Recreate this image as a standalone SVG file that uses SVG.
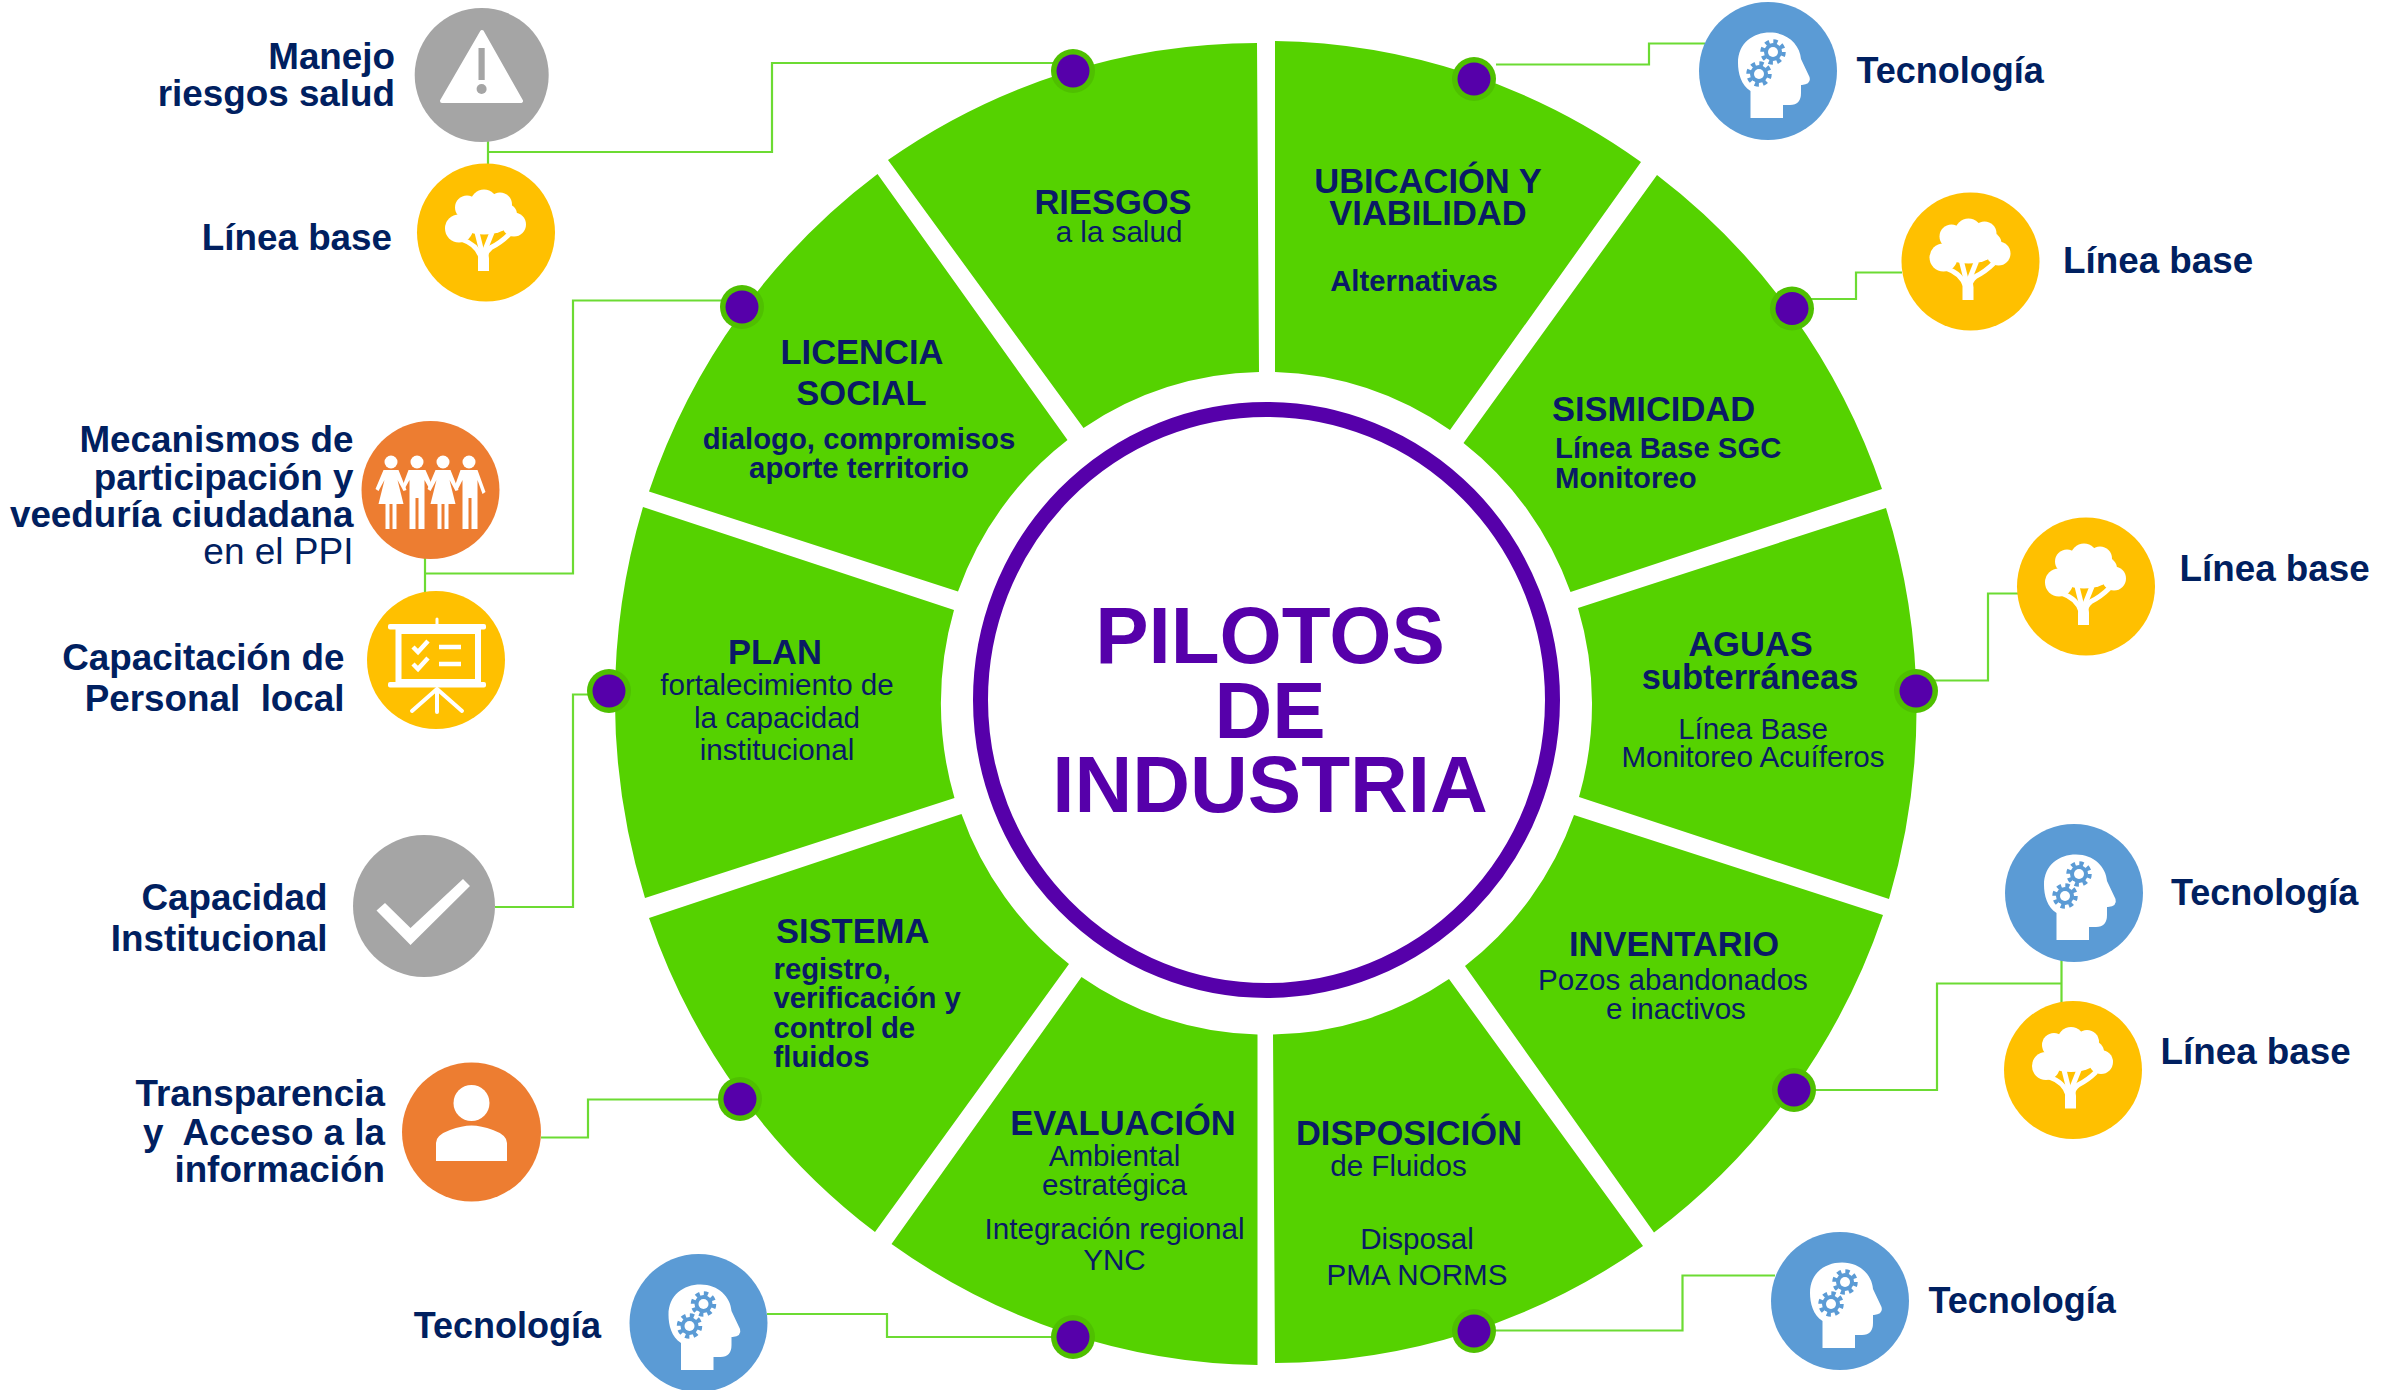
<svg xmlns="http://www.w3.org/2000/svg" width="2381" height="1390" viewBox="0 0 2381 1390">
<style>
text{font-family:"Liberation Sans",Arial,sans-serif}
.lb{font-size:36.800px;font-weight:700;fill:#002060}
.tc{font-size:36px;font-weight:700;fill:#002060}
.lr{font-size:37px;font-weight:400;fill:#002060}
.e{text-anchor:end}
.m{text-anchor:middle}
.h{font-size:34.500px;font-weight:700;fill:#0a1a66}
.b{font-size:29.300px;font-weight:700;fill:#0a1a66}
.r{font-size:29.600px;font-weight:400;fill:#0a1a66}
.c{font-size:80px;font-weight:700;fill:#5600AA;text-anchor:middle}
.w{fill:#55D200}
.cn{fill:none;stroke:#6CDB33;stroke-width:2.2}
.ro{fill:#4FC000}
.pu{fill:#5600AA}
.gy{fill:#A5A5A5}
.ye{fill:#FFC000}
.or{fill:#ED7D31}
.bl{fill:#5B9BD5}
.wh{fill:#fff}
</style>
<defs>
<g id="dot"><circle r="22" class="ro"/><circle r="16.5" class="pu"/></g>
<g id="gear"><circle r="9" class="bl"/><circle r="10.5" fill="none" stroke="#5B9BD5" stroke-width="4.5" stroke-dasharray="4.2 4.05"/><circle r="5" class="wh"/></g>
<g id="head">
<circle r="69" class="bl"/>
<path class="wh" d="M-17.5 47V20C-27 14-30 2-30-8C-30-28-15-38.5 2-38.5C20-38.5 32-26 33-12L41.5 6Q43.500 13 34 14L33 14V22Q33 34 22 34H15V47Z"/>
<use href="#gear" x="5" y="-19"/>
<use href="#gear" x="-9" y="3"/>
</g>
<g id="tree">
<circle r="69" class="ye"/>
<g fill="#fff">
<circle cx="-2" cy="-29.500" r="13.500"/>
<circle cx="-19" cy="-25" r="12"/>
<circle cx="14" cy="-28" r="12"/>
<circle cx="-27" cy="-4" r="14"/>
<circle cx="28" cy="-8" r="12"/>
<circle cx="20" cy="-18" r="11"/>
<ellipse cx="-2" cy="-12" rx="27" ry="14"/>
<path d="M-8 38.500V26L-7 18H2L3 26V38.500Z"/>
</g>
<g fill="none" stroke="#fff" stroke-width="5">
<path d="M-24 7Q-9 12-5 25"/>
<path d="M23 2Q15 10 5 15Q0 19-1 25"/>
<path d="M-9 0L-4 20"/>
<path d="M6 0L-2 20"/>
</g>
</g>
</defs>

<g id="connectors">
<polyline class="cn" points="1060,63 772,63 772,152 488,152"/>
<line class="cn" x1="488" y1="141" x2="488" y2="166"/>
<polyline class="cn" points="725,300.500 573,300.500 573,573.500 425,573.500"/>
<line class="cn" x1="425" y1="558" x2="425" y2="592"/>
<polyline class="cn" points="590,694.500 573,694.500 573,907 495,907"/>
<polyline class="cn" points="720,1099.500 588,1099.500 588,1137.500 541,1137.500"/>
<polyline class="cn" points="767,1314 887,1314 887,1337 1055,1337"/>
<polyline class="cn" points="1490,1330.500 1682.500,1330.500 1682.500,1275.500 1775,1275.500"/>
<polyline class="cn" points="1812,1090 1937,1090 1937,983.500 2061.500,983.500"/>
<line class="cn" x1="2061.500" y1="960" x2="2061.500" y2="1004"/>
<polyline class="cn" points="1932,680.500 1988,680.500 1988,593.500 2018,593.500"/>
<polyline class="cn" points="1810,299 1856,299 1856,272.500 1902,272.500"/>
<polyline class="cn" points="1496,64.500 1649,64.500 1649,43.500 1705,43.500"/>
</g>

<g id="hub">
<ellipse cx="1266.500" cy="700" rx="286" ry="290.500" fill="#fff" stroke="#5600AA" stroke-width="15"/>
<text class="c" x="1270" y="663">PILOTOS</text>
<text class="c" x="1270" y="737.500">DE</text>
<text class="c" x="1270" y="811.500">INDUSTRIA</text>
</g>

<g id="seg-riesgos">
<path class="w" d="M888 160A651 662 0 0 1 1257 43L1259 372A324.500 331 0 0 0 1083.500 428Z"/>
<use href="#dot" x="1073" y="71"/>
<text class="h m" x="1113" y="213.500">RIESGOS</text>
<text class="r m" x="1119" y="241.500">a la salud</text>
</g>
<g id="seg-ubicacion">
<path class="w" d="M1275 41A651 662 0 0 1 1641 162L1450 430A324.500 331 0 0 0 1275 372Z"/>
<use href="#dot" x="1474" y="79"/>
<text class="h m" x="1428" y="193">UBICACIÓN Y</text>
<text class="h m" x="1428" y="224.500">VIABILIDAD</text>
<text class="b m" x="1414" y="291">Alternativas</text>
</g>
<g id="seg-sismicidad">
<path class="w" d="M1657 175A651 662 0 0 1 1882 489L1570.500 592A324.500 331 0 0 0 1463.500 443Z"/>
<use href="#dot" x="1792" y="308.500"/>
<text class="h" x="1552" y="420.500">SISMICIDAD</text>
<text class="b" x="1555" y="457.500">Línea Base SGC</text>
<text class="b" x="1555" y="487.500">Monitoreo</text>
</g>
<g id="seg-aguas">
<path class="w" d="M1886 508A651 662 0 0 1 1889 899L1579 797A324.500 331 0 0 0 1578 608Z"/>
<use href="#dot" x="1916" y="691"/>
<text class="h m" x="1750.500" y="656">AGUAS</text>
<text class="h m" x="1750" y="689">subterráneas</text>
<text class="r m" x="1753" y="738.500">Línea Base</text>
<text class="r m" x="1753" y="767">Monitoreo Acuíferos</text>
</g>
<g id="seg-inventario">
<path class="w" d="M1883 915A651 662 0 0 1 1654 1232.500L1465 966A324.500 331 0 0 0 1574 815Z"/>
<use href="#dot" x="1794" y="1090"/>
<text class="h m" x="1674" y="955.500">INVENTARIO</text>
<text class="r m" x="1673" y="990">Pozos abandonados</text>
<text class="r m" x="1676" y="1019">e inactivos</text>
</g>
<g id="seg-disposicion">
<path class="w" d="M1643 1246A651 662 0 0 1 1275 1363L1273 1034.500A324.500 331 0 0 0 1449 979Z"/>
<use href="#dot" x="1474" y="1331"/>
<text class="h m" x="1409" y="1145">DISPOSICIÓN</text>
<text class="r m" x="1398.500" y="1176">de Fluidos</text>
<text class="r m" x="1417" y="1249">Disposal</text>
<text class="r m" x="1417" y="1284.500">PMA NORMS</text>
</g>
<g id="seg-evaluacion">
<path class="w" d="M1257.500 1365A651 662 0 0 1 891.500 1244L1081.500 977A324.500 331 0 0 0 1257.500 1034.500Z"/>
<use href="#dot" x="1073" y="1337"/>
<text class="h m" x="1123" y="1135">EVALUACIÓN</text>
<text class="r m" x="1114.500" y="1166">Ambiental</text>
<text class="r m" x="1114.500" y="1195">estratégica</text>
<text class="r m" x="1114.500" y="1238.500">Integración regional</text>
<text class="r m" x="1114.500" y="1270">YNC</text>
</g>
<g id="seg-sistema">
<path class="w" d="M875 1232A651 662 0 0 1 649 918L961.500 814A324.500 331 0 0 0 1069 964Z"/>
<use href="#dot" x="740" y="1099"/>
<text class="h" x="776" y="942.500">SISTEMA</text>
<text class="b" x="773.500" y="978.500">registro,</text>
<text class="b" x="773.500" y="1008">verificación y</text>
<text class="b" x="773.500" y="1038">control de</text>
<text class="b" x="773.500" y="1066.500">fluidos</text>
</g>
<g id="seg-plan">
<path class="w" d="M645 898A651 662 0 0 1 643 507L954 610A324.500 331 0 0 0 954.500 798Z"/>
<use href="#dot" x="609" y="691"/>
<text class="h m" x="775" y="664">PLAN</text>
<text class="r m" x="777" y="695">fortalecimiento de</text>
<text class="r m" x="777" y="728">la capacidad</text>
<text class="r m" x="777" y="759.500">institucional</text>
</g>
<g id="seg-licencia">
<path class="w" d="M649 491.500A651 662 0 0 1 877.500 174L1067.500 440A324.500 331 0 0 0 958 591.500Z"/>
<use href="#dot" x="742" y="307"/>
<text class="h m" x="862" y="364">LICENCIA</text>
<text class="h m" x="861.500" y="405">SOCIAL</text>
<text class="b m" x="859" y="448.500">dialogo, compromisos</text>
<text class="b m" x="859" y="477.500">aporte territorio</text>
</g>

<g id="n-manejo">
<circle cx="481.700" cy="75" r="67" class="gy"/>
<path class="wh" stroke="#fff" stroke-width="4" stroke-linejoin="round" d="M482 32L521 101H442Z"/>
<rect class="gy" x="478.500" y="48" width="6.200" height="32"/>
<circle class="gy" cx="481.600" cy="89" r="5"/>
<text class="lb e" x="395" y="69">Manejo</text>
<text class="lb e" x="395" y="106">riesgos salud</text>
</g>
<g id="n-lineabase-1">
<use href="#tree" x="486" y="232.500"/>
<text class="lb e" x="392" y="250">Línea base</text>
</g>
<g id="n-mecanismos">
<circle cx="430.500" cy="490" r="69" class="or"/>
<g fill="#fff" transform="translate(430.500 490)">
<circle cx="-39.500" cy="-28" r="6.500"/><circle cx="-13.500" cy="-28" r="6.500"/><circle cx="12.500" cy="-28" r="6.500"/><circle cx="38.500" cy="-28" r="6.500"/>
<path d="M-47-20H-32L-24 0L-27 1L-33-10L-27 14H-34V39H-38V14H-41V39H-45V14H-52L-46-10L-52 1L-55-1Z"/>
<path d="M-22-20H-5L2-4L-1-1L-6-10V39H-12V8H-15V39H-21V-10L-26-1L-28-4Z"/>
<path d="M5-20H20L28 0L25 1L19-10L25 14H18V39H14V14H11V39H7V14H0L6-10L0 1L-3-1Z"/>
<path d="M30-20H47L55 2L52 4L47-10V39H41V8H38V39H32V-10L27 0L24-3Z"/>
</g>
<text class="lb e" x="353.500" y="452">Mecanismos de</text>
<text class="lb e" x="353.500" y="489.500">participación y</text>
<text class="lb e" x="353.500" y="527">veeduría ciudadana</text>
<text class="lr e" x="353.500" y="564">en el PPI</text>
</g>
<g id="n-capacitacion">
<circle cx="436" cy="660" r="69" class="ye"/>
<rect class="wh" x="388" y="624" width="98" height="5.500" rx="2"/>
<rect class="wh" x="388" y="682" width="98" height="5.500" rx="2"/>
<rect x="398.500" y="631" width="79.500" height="51" fill="none" stroke="#fff" stroke-width="6"/>
<g fill="none" stroke="#fff" stroke-linecap="round">
<path stroke-width="3" d="M437 619V624"/>
<path stroke-width="4" d="M437 689V712M437 689L412 711M437 689L462 711"/>
<path stroke-width="4.500" stroke-linecap="butt" d="M439 647H461M439 664H461M413 647L418 652L428 641M413 664L418 669L428 658"/>
</g>
<text class="lb e" x="344.500" y="669.500">Capacitación de</text>
<text class="lb e" x="344.500" y="711" xml:space="preserve">Personal  local</text>
</g>
<g id="n-capacidad">
<circle cx="424" cy="906" r="71" class="gy"/>
<polygon class="wh" points="376.500,910.500 410.500,945 470,886 463,879 410.500,928 385,903"/>
<text class="lb e" x="327.500" y="909.500">Capacidad</text>
<text class="lb e" x="327.500" y="951">Institucional</text>
</g>
<g id="n-transparencia">
<circle cx="471.500" cy="1132" r="69.500" class="or"/>
<circle class="wh" cx="471.500" cy="1103" r="18"/>
<path class="wh" d="M436 1161V1143Q436 1135 450 1130Q462 1125.500 471.500 1125.500Q481 1125.500 493 1130Q507 1135 507 1143V1161Z"/>
<text class="lb e" x="385" y="1106">Transparencia</text>
<text class="lb e" x="385" y="1144.500" xml:space="preserve">y  Acceso a la</text>
<text class="lb e" x="385" y="1181.500">información</text>
</g>
<g id="n-tecnologia-sw">
<use href="#head" x="698.500" y="1323"/>
<text class="tc e" x="601" y="1338">Tecnología</text>
</g>
<g id="n-tecnologia-se">
<use href="#head" x="1840" y="1301"/>
<text class="tc" x="1928.500" y="1312.500">Tecnología</text>
</g>
<g id="n-lineabase-e3">
<use href="#tree" x="2073" y="1070"/>
<text class="lb" x="2160.500" y="1064">Línea base</text>
</g>
<g id="n-tecnologia-e">
<use href="#head" x="2074" y="893"/>
<text class="tc" x="2171" y="904.500">Tecnología</text>
</g>
<g id="n-lineabase-e2">
<use href="#tree" x="2086" y="586.500"/>
<text class="lb" x="2179.500" y="581">Línea base</text>
</g>
<g id="n-lineabase-e1">
<use href="#tree" x="1970.500" y="261.500"/>
<text class="lb" x="2063" y="272.500">Línea base</text>
</g>
<g id="n-tecnologia-ne">
<use href="#head" x="1768" y="71"/>
<text class="tc" x="1856.500" y="82.500">Tecnología</text>
</g>
</svg>
